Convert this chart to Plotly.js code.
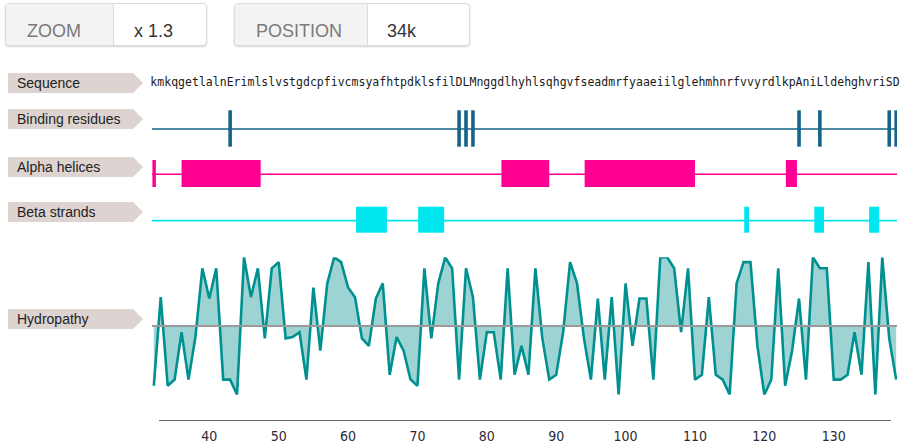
<!DOCTYPE html>
<html>
<head>
<meta charset="utf-8">
<script src="https://cdn.plot.ly/plotly-3.0.1.min.js"></script>
<style>
  html, body { margin: 0; padding: 0; background: #fff; }
  #wrap { position: relative; width: 901px; height: 446px; overflow: hidden; }
  #chart { position: absolute; left: 0; top: 0; width: 901px; height: 446px; }
  .btn { position: absolute; top: 3px; height: 41px; border: 1px solid #dcdcdc; border-radius: 4px;
         box-shadow: 0 1px 2px rgba(0,0,0,0.18); background: #fff; overflow: hidden;
         font-family: "Liberation Sans", Arial, sans-serif; font-size: 18px; }
  .btn .lab { position: absolute; left: 0; top: 0; bottom: 0; background: #f3f3f3; border-right: 1px solid #dcdcdc; }
  .btn .t { position: absolute; top: 18px; line-height: 18px; white-space: nowrap; }
  .btn .lab .t { color: #7a7a7a; }
  .btn .val { color: #333; }
</style>
</head>
<body>
<div id="wrap">
  <div id="chart"></div>
  <div class="btn" style="left:5px; width:200px;">
    <div class="lab" style="width:107px;"><span class="t" style="left:21px;">ZOOM</span></div>
    <span class="t val" style="left:128px;">x 1.3</span>
  </div>
  <div class="btn" style="left:234px; width:234px;">
    <div class="lab" style="width:132px;"><span class="t" style="left:21px;">POSITION</span></div>
    <span class="t val" style="left:152px;">34k</span>
  </div>
</div>
<script>
// ---------- data ----------
const firstResidue = 32;
const sequence = ["k","m","k","q","g","e","t","l","a","l","n","E","r","i","m","l","s","l","v","s",
  "t","g","d","c","p","f","i","v","c","m","s","y","a","f","h","t","p","d","k","l",
  "s","f","i","l","D","L","M","n","g","g","d","l","h","y","h","l","s","q","h","g",
  "v","f","s","e","a","d","m","r","f","y","a","a","e","i","i","l","g","l","e","h",
  "m","h","n","r","f","v","v","y","r","d","l","k","p","A","n","i","L","l","d","e",
  "h","g","h","v","r","i","S","D"];
const hydropathy = [-0.87,0.42,-0.87,-0.78,-0.09,-0.78,-0.16,0.84,0.40,0.84,-0.78,-0.78,-1.00,1.00,0.42,0.84,-0.18,0.84,0.93,-0.18,
  -0.16,-0.09,-0.78,0.56,-0.36,0.62,1.00,0.93,0.56,0.42,-0.18,-0.29,0.40,0.62,-0.71,-0.16,-0.36,-0.78,-0.87,0.84,
  -0.18,0.62,1.00,0.84,-0.78,0.84,0.42,-0.78,-0.09,-0.09,-0.78,0.84,-0.71,-0.29,-0.71,0.84,-0.18,-0.78,-0.71,-0.09,
  0.93,0.62,-0.18,-0.78,0.40,-0.78,0.42,-1.00,0.62,-0.29,0.40,0.40,-0.78,1.00,1.00,0.84,-0.09,0.84,-0.78,-0.71,
  0.42,-0.71,-0.78,-1.00,0.62,0.93,0.93,-0.29,-1.00,-0.78,0.84,-0.87,-0.36,0.40,-0.78,1.00,0.84,0.84,-0.78,-0.78,
  -0.71,-0.09,-0.71,0.93,-1.00,1.00,-0.18,-0.78];
const bindingResidues = [43, 76, 77, 78, 125, 128, 138, 139];
const helixStart = [31.8, 36.0, 82.1, 94.1, 123.1];
const helixEnd   = [32.3, 47.4, 89.0, 110.0, 124.7];
const strandStart = [61.15, 70.1, 117.1, 127.2, 135.1];
const strandEnd   = [65.6, 73.85, 117.8, 128.6, 136.55];
const trackLabels = ["Sequence", "Binding residues", "Alpha helices", "Beta strands", "Hydropathy"];
const tickValues = [40, 50, 60, 70, 80, 90, 100, 110, 120, 130];

// ---------- layout helpers (pixel geometry) ----------
const W = 901, H = 446;
const plotBottom = 421;              // main y axis is in pixel units (0 at top)
const xMin = 31.74, xMax = 139.12;   // visible residue range (track extent)
const axisFrom = 32.75, axisTo = 138.24;
const labelRowY = [83, 119, 167, 212, 319];
const seqY = 83, bindY = 128.5, bindLineY = 129, helixY = 173.5, helixLineY = 174.2, strandY = 219.7, strandLineY = 220.6;
const px = p => p / W;

const residues = sequence.map((_, i) => firstResidue + i);

const cBind = "#15658a", cHelix = "#ff0092", cStrand = "#00e6ef", cHyd = "#009090";

const traces = [];
// sequence letters
traces.push({ type: "scatter", mode: "text", x: residues, y: residues.map(() => seqY), text: sequence,
  textposition: "middle center", textfont: { family: "DejaVu Sans Mono, monospace", size: 11.5, color: "#1a1a1a" },
  xaxis: "x", yaxis: "y", showlegend: false, hoverinfo: "skip", cliponaxis: false });
// binding residues
traces.push({ type: "scatter", mode: "markers", x: bindingResidues, y: bindingResidues.map(() => bindY),
  marker: { symbol: "line-ns", size: 26, line: { width: 3.6, color: cBind }, color: cBind },
  xaxis: "x", yaxis: "y", showlegend: false, hoverinfo: "skip" });
// helices
traces.push({ type: "bar", orientation: "h", base: helixStart, x: helixEnd.map((e, i) => e - helixStart[i]),
  y: helixStart.map(() => helixY), width: 27, marker: { color: cHelix, line: { width: 0 } },
  xaxis: "x", yaxis: "y", showlegend: false, hoverinfo: "skip" });
// strands
traces.push({ type: "bar", orientation: "h", base: strandStart, x: strandEnd.map((e, i) => e - strandStart[i]),
  y: strandStart.map(() => strandY), width: 26, marker: { color: cStrand, line: { width: 0 } },
  xaxis: "x", yaxis: "y", showlegend: false, hoverinfo: "skip" });
// hydropathy
traces.push({ type: "scatter", mode: "lines", x: residues, y: hydropathy, fill: "tozeroy",
  fillcolor: "rgba(0,139,139,0.38)", line: { color: cHyd, width: 2.6, shape: "linear" },
  xaxis: "x", yaxis: "y2", showlegend: false, hoverinfo: "skip" });

const shapes = [];
// track baselines
[[bindLineY, cBind], [helixLineY, cHelix], [strandLineY, cStrand]].forEach(([yy, c]) => {
  shapes.push({ type: "line", xref: "x", yref: "y", x0: xMin, x1: xMax, y0: yy, y1: yy,
    line: { color: c, width: 1.6 }, layer: "below" });
});
// hydropathy zero line
shapes.push({ type: "line", xref: "x", yref: "y2", x0: xMin, x1: xMax, y0: 0, y1: 0,
  line: { color: "#9a9a9a", width: 2 }, layer: "above" });
// axis line with end caps and tick marks
shapes.push({ type: "line", xref: "x", yref: "y", x0: axisFrom, x1: axisTo, y0: plotBottom, y1: plotBottom,
  line: { color: "#333", width: 1.5 } });
[axisFrom, axisTo].concat(tickValues).forEach(v => shapes.push({ type: "line", xref: "x", yref: "y", x0: v, x1: v,
  y0: plotBottom, y1: plotBottom + 7, line: { color: "#333", width: 1.5 } }));
// label arrow boxes
const annotations = [];
labelRowY.forEach((cy, i) => {
  const t = cy - 10, b = cy + 10;
  shapes.push({ type: "path", xref: "paper", yref: "y",
    path: `M ${px(8)},${t} L ${px(133)},${t} L ${px(143)},${cy} L ${px(133)},${b} L ${px(8)},${b} Z`,
    fillcolor: "#ddd4d1", line: { width: 0 }, layer: "below" });
  annotations.push({ xref: "paper", yref: "y", x: px(15), y: cy, xanchor: "left", yanchor: "middle",
    text: trackLabels[i], showarrow: false,
    font: { family: "Liberation Sans, Arial, sans-serif", size: 14, color: "#222" } });
});

const layout = {
  width: W, height: H,
  margin: { l: 0, r: 0, t: 0, b: H - plotBottom, pad: 0 },
  paper_bgcolor: "#fff", plot_bgcolor: "rgba(0,0,0,0)",
  barmode: "overlay", hovermode: false, showlegend: false,
  xaxis: { domain: [px(152), px(897)], range: [xMin, xMax], showgrid: false, zeroline: false, showline: false,
    tickmode: "array", tickvals: tickValues, ticks: "", ticklabelstandoff: 5,
    tickfont: { family: "DejaVu Sans Condensed, Liberation Sans Narrow, DejaVu Sans, sans-serif", size: 14, color: "#2b2b3a" },
    fixedrange: true },
  yaxis: { domain: [0, 1], range: [plotBottom, 0], visible: false, fixedrange: true },
  yaxis2: { domain: [(plotBottom - 394.7) / plotBottom, (plotBottom - 257.3) / plotBottom], range: [-1, 1],
    visible: false, anchor: "x", fixedrange: true },
  shapes: shapes, annotations: annotations
};

Plotly.newPlot("chart", traces, layout, { displayModeBar: false, staticPlot: true });
</script>
</body>
</html>
